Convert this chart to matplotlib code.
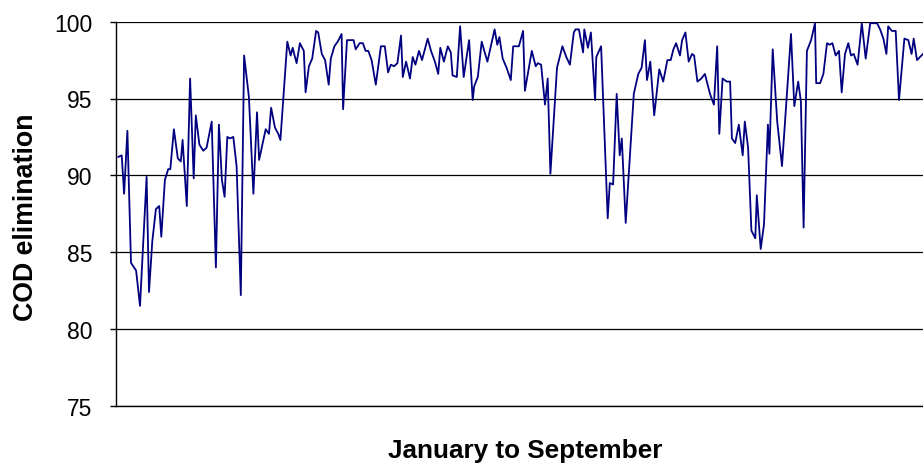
import matplotlib
matplotlib.use("Agg")
import matplotlib.pyplot as plt

# day index (Jan -> Sep)
days = [
    0.8, 1.9, 2.7, 3.8, 5.0, 6.7, 8.0, 10.2, 11.0, 12.1, 13.3, 14.4, 15.1, 16.3, 17.4, 18.1,
    19.3, 20.6, 21.6, 22.2, 23.6, 24.7, 25.9, 26.6, 27.8, 29.1, 30.2, 31.9, 33.3, 34.3, 35.3,
    36.2, 37.1, 38.0, 39.1, 40.2, 41.6, 42.7,
    44.3, 45.8, 47.0, 47.7, 48.8, 49.9, 51.0, 51.7, 53.0, 54.1, 54.8, 57.1, 58.2, 58.9, 59.4,
    60.2, 61.3, 62.6, 63.2, 64.3, 65.4, 66.7, 67.4, 68.6, 69.7, 70.9, 71.6, 72.8, 73.9, 75.2,
    75.7, 77.0, 79.2, 79.9, 81.2, 82.3, 83.2, 84.1, 85.2, 86.6, 88.3,
    89.6, 90.7, 91.6, 92.7, 93.8, 95.0, 95.6, 96.7, 98.0, 98.9, 99.8, 101.0, 102.0, 103.9,
    105.0, 106.3, 107.4, 108.1, 109.3, 110.6, 111.6, 112.2, 113.6, 114.7, 115.9, 117.7, 118.9,
    119.4, 120.6, 121.9, 123.8, 126.2, 127.1, 127.8, 128.9, 130.2, 131.6, 132.4,
    134.3, 135.7, 136.3, 138.6, 139.9, 140.6, 141.7, 143.0, 143.9, 144.8, 147.0, 148.8, 150.1,
    151.3, 152.6, 153.2, 154.3, 155.7, 156.1, 157.3, 158.3, 159.7, 160.1, 161.7, 163.9, 164.6,
    165.7, 166.9, 167.9, 168.6, 169.9, 171.3, 172.6, 174.1, 175.2, 176.3, 177.0, 178.1, 179.4,
    181.1, 182.4, 183.8, 184.9, 185.8, 186.7, 188.0, 188.7, 189.8, 190.9, 192.0, 192.7, 193.8,
    195.1, 196.3, 198.0, 199.3, 200.4, 201.1, 202.2, 203.6, 204.7, 205.3, 206.4, 207.6, 208.9,
    209.6, 210.7, 211.8, 213.1, 213.6, 214.9, 216.0, 217.3, 217.8, 218.9, 220.4, 222.0,
    225.0, 226.1, 227.4, 228.3, 229.2, 230.3, 231.7, 233.0, 233.4, 234.7, 235.8, 237.0, 237.9,
    238.8, 239.9, 241.0, 241.9, 243.0, 244.1, 245.0, 245.9, 247.2, 248.6, 249.9, 251.4, 253.7,
    254.7, 255.8, 256.8, 257.4, 258.6, 259.9, 261.0, 262.8, 264.1, 265.2, 265.9, 267.0, 269.0,
]

cod = [
    91.2, 91.3, 88.8, 92.9, 84.3, 83.8, 81.5, 89.9, 82.4, 85.7, 87.8, 88.0, 86.0, 89.7, 90.4, 90.4,
    93.0, 91.1, 90.9, 92.3, 88.0, 96.3, 89.8, 93.9, 92.0, 91.6, 91.8, 93.5, 84.0, 93.3, 89.7,
    88.6, 92.5, 92.4, 92.5, 90.6, 82.2, 97.8,
    95.1, 88.8, 94.1, 91.0, 92.0, 93.0, 92.7, 94.4, 93.1, 92.7, 92.3, 98.7, 97.8, 98.3, 97.9,
    97.3, 98.6, 98.1, 95.4, 97.1, 97.6, 99.4, 99.3, 97.9, 97.5, 95.9, 97.6, 98.4, 98.7, 99.2,
    94.3, 98.8, 98.8, 98.2, 98.6, 98.6, 98.1, 98.1, 97.5, 95.9, 98.4,
    98.4, 96.7, 97.2, 97.1, 97.3, 99.1, 96.4, 97.4, 96.3, 97.7, 97.2, 98.1, 97.5, 98.9,
    98.1, 97.4, 96.6, 98.3, 97.4, 98.4, 98.0, 96.5, 96.4, 99.7, 96.4, 98.8, 94.9,
    95.8, 96.4, 98.7, 97.4, 99.5, 98.5, 99.0, 97.6, 97.0, 96.2, 98.4,
    98.4, 99.4, 95.5, 98.1, 97.1, 97.3, 97.2, 94.6, 96.3, 90.1, 97.0, 98.4, 97.7,
    97.2, 99.3, 99.5, 99.5, 98.0, 99.5, 98.3, 99.3, 94.9, 97.7, 98.4, 87.2, 89.5,
    89.4, 95.3, 91.3, 92.4, 86.9, 91.2, 95.3, 96.6, 97.0, 98.8, 96.2, 97.4, 93.9,
    96.9, 96.1, 97.5, 97.5, 98.2, 98.6, 97.8, 98.8, 99.3, 97.4, 97.9, 97.8, 96.1,
    96.3, 96.6, 95.3, 94.6, 98.4, 92.7, 96.3, 96.1, 96.1, 92.4, 92.1, 93.3, 91.3,
    93.5, 91.8, 86.4, 85.9, 88.7, 85.2, 86.8, 93.3, 91.4, 98.2, 93.5, 90.6,
    99.2, 94.5, 96.1, 94.8, 86.6, 98.1, 98.8, 99.9, 96.0, 96.0, 96.6, 98.6, 98.5,
    98.6, 97.8, 98.1, 95.4, 97.9, 98.6, 97.8, 97.9, 97.2, 99.9, 97.6, 99.9, 99.9,
    99.5, 98.9, 97.9, 99.7, 99.4, 99.4, 94.9, 98.9, 98.8, 97.9, 98.9, 97.5, 97.9,
]

y_ticks = [75, 80, 85, 90, 95, 100]

plt.rcParams.update({
    "font.family": ["Liberation Sans", "DejaVu Sans"],
})

fig = plt.figure(figsize=(9.23, 4.64), dpi=100)
ax = fig.add_axes([116 / 923, 57.3 / 464, 807 / 923, 384 / 464])

ax.plot(days, cod, color="#000080", linewidth=1.3, zorder=3)

ax.set_xlim(0, 269)
ax.set_ylim(75, 100)
ax.set_yticks(y_ticks)
ax.set_xticks([])
ax.tick_params(axis="y", length=4.5, width=1, labelsize=16.5, pad=12.5, direction="out")

# Excel-like horizontal gridlines
ax.grid(axis="y", color="black", linewidth=0.9)
ax.set_axisbelow(True)

for side in ("top", "right"):
    ax.spines[side].set_visible(False)
ax.spines["left"].set_linewidth(1)
ax.spines["bottom"].set_linewidth(1)

fig.text(33.3 / 923, 1 - 217.5 / 464, "COD elimination", rotation=90,
         rotation_mode="anchor", ha="center", va="baseline",
         fontsize=19.3, fontweight="bold")
fig.text(525 / 923, 1 - 458.3 / 464, "January to September",
         ha="center", va="baseline", fontsize=18.8, fontweight="bold")

fig.savefig("out.png", dpi=100, facecolor="white")
